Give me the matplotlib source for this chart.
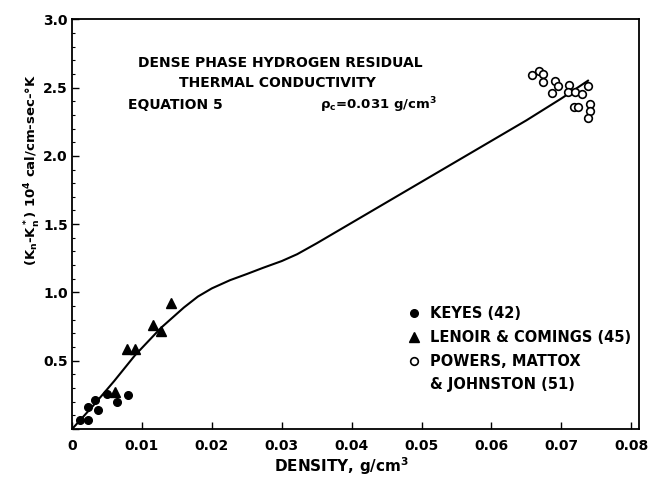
import numpy as np
import matplotlib
matplotlib.use('Agg')
import matplotlib.pyplot as plt
from matplotlib.lines import Line2D

plt.rcParams['font.family'] = ['DejaVu Sans']
plt.rcParams['font.weight'] = 'bold'
plt.rcParams['mathtext.default'] = 'bf'

# Keyes (42) - filled circles
keyes_x = [0.0011, 0.0023, 0.0023, 0.0033, 0.0037, 0.0050, 0.0064, 0.0080]
keyes_y = [0.07, 0.065, 0.16, 0.21, 0.14, 0.26, 0.20, 0.25]

# Lenoir & Comings (45) - filled triangles
lenoir_x = [0.0061, 0.0079, 0.0090, 0.0116, 0.0127, 0.0142]
lenoir_y = [0.27, 0.59, 0.59, 0.76, 0.72, 0.92]

# Powers, Mattox & Johnston (51) - open circles
powers_x = [0.0658, 0.0668, 0.0674, 0.0674, 0.0691, 0.0695, 0.0687, 0.0711,
            0.0710, 0.0720, 0.0730, 0.0738, 0.0718, 0.0724, 0.0741, 0.0741, 0.0738]
powers_y = [2.59, 2.62, 2.60, 2.54, 2.55, 2.51, 2.46, 2.52,
            2.47, 2.47, 2.45, 2.51, 2.36, 2.36, 2.38, 2.33, 2.28]

# Equation 5 curve
curve_x = [0.0, 0.003, 0.006, 0.009, 0.0127, 0.016, 0.018, 0.020, 0.0226,
           0.025, 0.0273, 0.030, 0.0322, 0.035, 0.040, 0.045, 0.050, 0.055,
           0.060, 0.065, 0.070, 0.0738]
curve_y = [0.0, 0.17, 0.35, 0.54, 0.74, 0.89, 0.97, 1.03, 1.09,
           1.135, 1.18, 1.23, 1.28, 1.36, 1.51, 1.66, 1.81, 1.96,
           2.11, 2.26, 2.42, 2.55]

x_ticks = [0, 0.01, 0.02, 0.03, 0.04, 0.05, 0.06, 0.07, 0.08]
x_labels = ['0', '0.01', '0.02', '0.03', '0.04', '0.05', '0.06', '0.07', '0.08']
y_ticks = [0, 0.5, 1.0, 1.5, 2.0, 2.5, 3.0]
y_labels = ['', '0.5', '1.0', '1.5', '2.0', '2.5', '3.0']

fig = plt.figure(figsize=(6.5, 4.8), dpi=100)
ax = fig.add_axes([0.1108, 0.106, 0.8723, 0.854])

ax.plot(curve_x, curve_y, '-', color='black', lw=1.5)
ax.plot(keyes_x, keyes_y, 'o', color='black', ms=5.5, ls='none')
ax.plot(lenoir_x, lenoir_y, '^', color='black', ms=6.5, ls='none')
ax.plot(powers_x, powers_y, 'o', mfc='white', mec='black', mew=1.2, ms=5.5, ls='none')

ax.set_xlim(0, 0.0811)
ax.set_ylim(0, 3.0)
ax.set_xticks(x_ticks)
ax.set_xticklabels(x_labels)
ax.set_yticks(y_ticks)
ax.set_yticklabels(y_labels)
ax.set_yticks(np.arange(0, 3.01, 0.1), minor=True)
ax.tick_params(axis='both', which='major', direction='in', length=5, width=1,
               labelsize=10)
ax.tick_params(axis='x', which='major', pad=7)
ax.tick_params(axis='y', which='major', pad=3)
ax.tick_params(axis='y', which='minor', direction='in', length=2, width=0.8)
for s in ax.spines.values():
    s.set_linewidth(1.3)

# title block
ax.text(0.367, 0.893, 'DENSE PHASE HYDROGEN RESIDUAL', transform=ax.transAxes,
        ha='center', va='center', fontsize=10)
ax.text(0.362, 0.844, 'THERMAL CONDUCTIVITY', transform=ax.transAxes,
        ha='center', va='center', fontsize=10)
ax.text(0.099, 0.790, 'EQUATION 5', transform=ax.transAxes,
        ha='left', va='center', fontsize=10)
ax.text(0.437, 0.790, r'$\rho_c$=0.031 g/cm$^3$', transform=ax.transAxes,
        ha='left', va='center', fontsize=9.5)

handles = [
    Line2D([], [], marker='o', color='black', ms=5.5, ls='none'),
    Line2D([], [], marker='^', color='black', ms=6.5, ls='none'),
    Line2D([], [], marker='o', mfc='white', mec='black', mew=1.2, ms=5.5, ls='none'),
    Line2D([], [], ls='none'),
]
labels = ['KEYES (42)', 'LENOIR & COMINGS (45)', 'POWERS, MATTOX', '& JOHNSTON (51)']
ax.legend(handles, labels, loc='upper left', bbox_to_anchor=(0.592, 0.30),
          frameon=False, fontsize=10.5, handlelength=0.8, handletextpad=0.75,
          borderpad=0, borderaxespad=0, labelspacing=0.6)

fig.text(0.05, 0.646, r'(K$_n$-K$_n^*$) 10$^4$ cal/cm-sec-°K', rotation=90,
         ha='center', va='center', fontsize=9.5)
fig.text(0.526, 0.029, 'DENSITY, g/cm$^3$', ha='center', va='center', fontsize=11)

fig.savefig('out.png', dpi=100)
